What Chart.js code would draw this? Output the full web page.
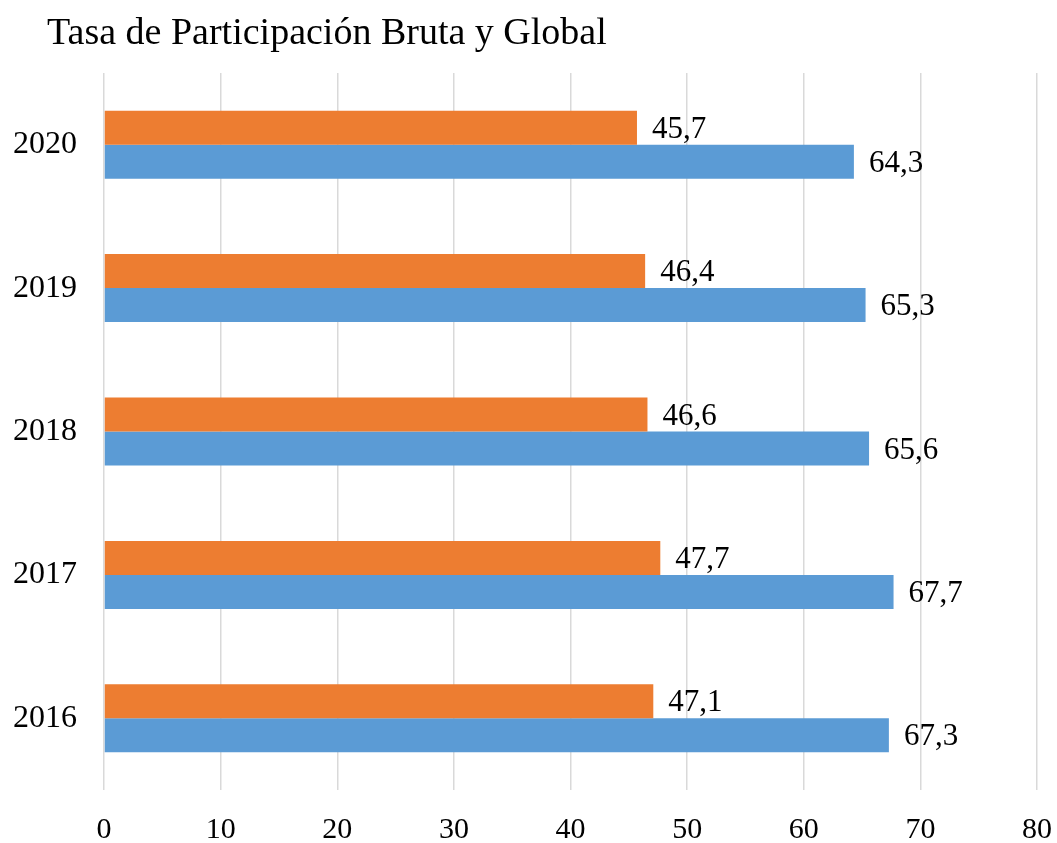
<!DOCTYPE html>
<html>
<head>
<meta charset="utf-8">
<script src="https://cdn.jsdelivr.net/npm/chart.js@4.4.0/dist/chart.umd.min.js"></script>
<style>
  html, body { margin: 0; padding: 0; background: #fff; }
  #wrap { width: 1057px; height: 843px; position: relative; }
</style>
</head>
<body>
<div id="wrap"><canvas id="chart"></canvas></div>
<script>
// data
const years = ['2020', '2019', '2018', '2017', '2016'];
const bruta = [45.7, 46.4, 46.6, 47.7, 47.1];
const global = [64.3, 65.3, 65.6, 67.7, 67.3];
const xTicks = [0, 10, 20, 30, 40, 50, 60, 70, 80];

const titleText = 'Tasa de Participación Bruta y Global';
const serif = '"Liberation Serif", "Times New Roman", serif';

// value labels to the right of each bar, with a decimal comma
const valueLabels = {
  id: 'valueLabels',
  afterDatasetsDraw(chart) {
    const ctx = chart.ctx;
    ctx.save();
    ctx.font = '31px ' + serif;
    ctx.fillStyle = '#000';
    ctx.textAlign = 'left';
    ctx.textBaseline = 'middle';
    chart.data.datasets.forEach((ds, i) => {
      chart.getDatasetMeta(i).data.forEach((bar, j) => {
        const txt = ds.data[j].toFixed(1).replace('.', ',');
        ctx.fillText(txt, bar.x + 15, bar.y + 2);
      });
    });
    ctx.restore();
  }
};

// title sits left, independent of the axis box
const leftTitle = {
  id: 'leftTitle',
  afterDraw(chart) {
    const ctx = chart.ctx;
    ctx.save();
    ctx.font = '38px ' + serif;
    ctx.fillStyle = '#000';
    ctx.textAlign = 'left';
    ctx.textBaseline = 'alphabetic';
    ctx.fillText(titleText, 47, 44);
    ctx.restore();
  }
};

new Chart(document.getElementById('chart'), {
  type: 'bar',
  data: {
    labels: years,
    datasets: [
      { label: 'Bruta', data: bruta, backgroundColor: '#ED7D31' },
      { label: 'Global', data: global, backgroundColor: '#5B9BD5' }
    ]
  },
  options: {
    indexAxis: 'y',
    responsive: true,
    maintainAspectRatio: false,
    animation: false,
    layout: { padding: { top: 73, right: 20, left: 0, bottom: 0 } },
    datasets: { bar: { categoryPercentage: 0.474, barPercentage: 1 } },
    plugins: {
      legend: { display: false },
      title: { display: false },
      tooltip: { enabled: false }
    },
    scales: {
      x: {
        min: 0,
        max: 80,
        afterBuildTicks(scale) { scale.ticks = xTicks.map(v => ({ value: v })); },
        afterFit(scale) {
          scale.height = 53;
          scale.paddingLeft = 0;
          scale.paddingRight = 0;
        },
        grid: { color: '#d9d9d9', lineWidth: 1.5, drawTicks: false },
        border: { display: false },
        ticks: { color: '#000', font: { family: serif, size: 30 }, padding: 22 }
      },
      y: {
        afterFit(scale) { scale.width = 104; },
        grid: { display: false },
        border: { display: false },
        ticks: { color: '#000', font: { family: serif, size: 32 }, padding: 19 }
      }
    }
  },
  plugins: [valueLabels, leftTitle]
});
</script>
</body>
</html>
